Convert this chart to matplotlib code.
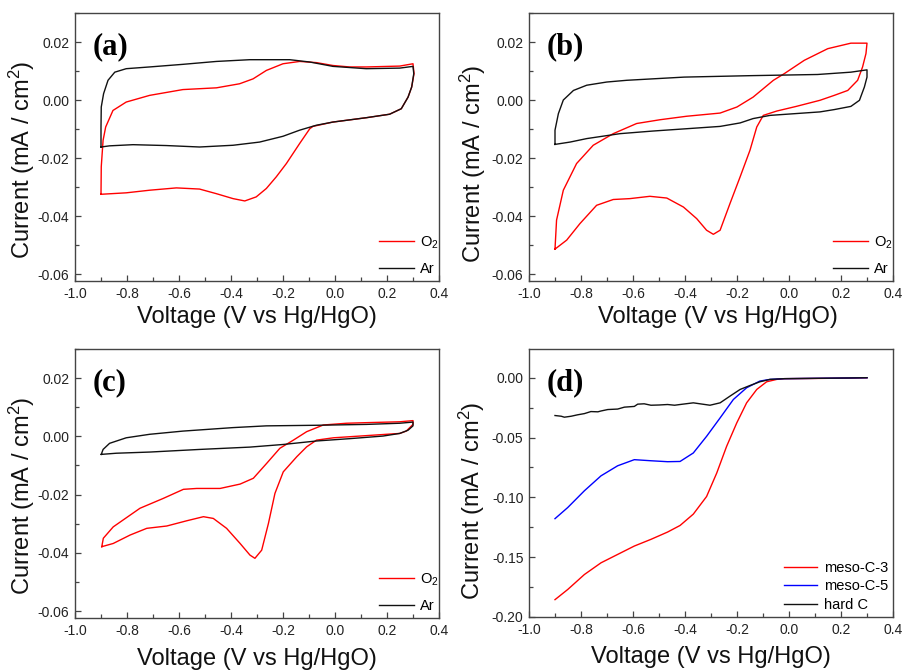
import matplotlib
matplotlib.use("Agg")
import matplotlib.pyplot as plt
from matplotlib.ticker import MultipleLocator, FormatStrFormatter

plt.rcParams['font.family'] = ['Liberation Sans', 'DejaVu Sans']
plt.rcParams['axes.unicode_minus'] = False
plt.rcParams['mathtext.default'] = 'regular'

# ---------------- data (V vs Hg/HgO, mA/cm^2) ----------------
# (a)
a_ar_v = [-0.9, -0.9, -0.899, -0.89, -0.873, -0.847, -0.803, -0.713, -0.585, -0.456, -0.328, -0.174,
          -0.097, -0.008, 0.12, 0.249, 0.30, 0.303, 0.295, 0.281, 0.255, 0.21, 0.12, -0.008, -0.072,
          -0.136, -0.2, -0.29, -0.392, -0.521, -0.649, -0.777, -0.867, -0.9]
a_ar_i = [-0.0162, -0.0093, -0.0024, 0.0022, 0.0068, 0.0096, 0.0108, 0.0114, 0.0123, 0.0133, 0.0139, 0.0139,
          0.0131, 0.0116, 0.0108, 0.0110, 0.0116, 0.0091, 0.0045, 0.0010, -0.0030, -0.0049, -0.0061, -0.0076,
          -0.0087, -0.0104, -0.0125, -0.0145, -0.0156, -0.0162, -0.0157, -0.0154, -0.0158, -0.0162]
a_o2_v = [-0.9, -0.899, -0.892, -0.882, -0.854, -0.803, -0.713, -0.585, -0.456, -0.367, -0.315, -0.264,
          -0.2, -0.136, -0.072, -0.008, 0.056, 0.121, 0.249, 0.30, 0.304, 0.295, 0.281, 0.255, 0.21, 0.121,
          -0.008, -0.085, -0.097, -0.136, -0.187, -0.226, -0.264, -0.303, -0.347, -0.392, -0.456, -0.521,
          -0.61, -0.713, -0.803, -0.9]
a_o2_i = [-0.0325, -0.0230, -0.0139, -0.0093, -0.0036, -0.0007, 0.0016, 0.0036, 0.0042, 0.0056, 0.0073, 0.0102,
          0.0125, 0.0133, 0.0129, 0.0119, 0.0114, 0.0114, 0.0117, 0.0125, 0.0091, 0.0045, 0.0010, -0.0030, -0.0049,
          -0.0061, -0.0076, -0.0091, -0.0099, -0.0150, -0.0219, -0.0265, -0.0305, -0.0334, -0.0348, -0.0340,
          -0.0323, -0.0307, -0.0303, -0.0311, -0.0320, -0.0325]

# (b)
b_ar_v = [-0.9, -0.9, -0.887, -0.868, -0.829, -0.778, -0.701, -0.624, -0.403, -0.146, 0.11, 0.238, 0.30,
          0.30, 0.29, 0.271, 0.238, 0.174, 0.119, -0.073, -0.138, -0.188, -0.265, -0.394, -0.524, -0.65,
          -0.778, -0.842, -0.9]
b_ar_i = [-0.0153, -0.0104, -0.0047, 0.0000, 0.0033, 0.0051, 0.0062, 0.0068, 0.0079, 0.0084, 0.0088, 0.0096, 0.0104,
          0.0079, 0.0045, -0.0001, -0.0022, -0.0033, -0.0041, -0.0053, -0.0064, -0.0079, -0.0091, -0.0099, -0.0107,
          -0.0116, -0.0133, -0.0145, -0.0153]
b_o2_v = [-0.9, -0.894, -0.868, -0.817, -0.753, -0.676, -0.586, -0.496, -0.394, -0.265, -0.2, -0.138, -0.06,
          -0.018, 0.059, 0.149, 0.238, 0.30, 0.296, 0.283, 0.264, 0.226, 0.174, 0.119, 0.028, -0.047, -0.099,
          -0.124, -0.15, -0.188, -0.227, -0.265, -0.291, -0.317, -0.355, -0.406, -0.47, -0.535, -0.612,
          -0.676, -0.74, -0.804, -0.855, -0.9]
b_o2_i = [-0.0514, -0.0414, -0.0311, -0.0219, -0.0156, -0.0116, -0.0081, -0.0068, -0.0056, -0.0045, -0.0024,
          0.0010, 0.0068, 0.0091, 0.0137, 0.0177, 0.0196, 0.0196, 0.0160, 0.0114, 0.0068, 0.0033, 0.0016, -0.0001,
          -0.0022, -0.0038, -0.0053, -0.0093, -0.0173, -0.0265, -0.0357, -0.0449, -0.0463, -0.0449, -0.0409,
          -0.0369, -0.0338, -0.0332, -0.0340, -0.0343, -0.0363, -0.0426, -0.0483, -0.0514]

# (c)
c_ar_v = [-0.899, -0.892, -0.867, -0.803, -0.713, -0.585, -0.392, -0.264, -0.072, 0.121, 0.249, 0.30,
          0.30, 0.281, 0.249, 0.185, 0.056, -0.072, -0.2, -0.328, -0.521, -0.713, -0.841, -0.899]
c_ar_i = [-0.0062, -0.0045, -0.0024, -0.0005, 0.0007, 0.0018, 0.0030, 0.0036, 0.0038, 0.0041, 0.0045, 0.0049,
          0.0036, 0.0021, 0.0010, 0.0001, -0.0008, -0.0016, -0.0028, -0.0037, -0.0045, -0.0054, -0.0058, -0.0062]
c_o2_v = [-0.897, -0.891, -0.853, -0.75, -0.66, -0.583, -0.532, -0.442, -0.365, -0.314, -0.263, -0.212,
          -0.16, -0.109, -0.045, 0.045, 0.121, 0.249, 0.30, 0.30, 0.274, 0.249, 0.096, -0.006, -0.071,
          -0.109, -0.147, -0.199, -0.231, -0.256, -0.282, -0.308, -0.327, -0.365, -0.417, -0.468, -0.506,
          -0.57, -0.647, -0.724, -0.788, -0.853, -0.897]
c_o2_i = [-0.0379, -0.0350, -0.0311, -0.0247, -0.0213, -0.0182, -0.0179, -0.0179, -0.0164, -0.0144, -0.0093,
          -0.0041, -0.0013, 0.0016, 0.0039, 0.0045, 0.0047, 0.0050, 0.0054, 0.0041, 0.0018, 0.0010, 0.0001,
          -0.0005, -0.0013, -0.0036, -0.0070, -0.0122, -0.0196, -0.0299, -0.0391, -0.0419, -0.0408, -0.0368,
          -0.0316, -0.0282, -0.0276, -0.0290, -0.0308, -0.0316, -0.0339, -0.0368, -0.0379]

# (d)
d_c3_v = [-0.9, -0.851, -0.787, -0.723, -0.659, -0.595, -0.531, -0.467, -0.419, -0.368, -0.317, -0.278,
          -0.24, -0.201, -0.163, -0.124, -0.086, -0.047, -0.018, 0.11, 0.238, 0.30]
d_c3_i = [-0.1855, -0.177, -0.1645, -0.1547, -0.1477, -0.1407, -0.1351, -0.1290, -0.1235, -0.1140, -0.0993,
          -0.0797, -0.0574, -0.0378, -0.0210, -0.0098, -0.0034, -0.0014, -0.0008, -0.0006, -0.0003, 0.0]
d_c5_v = [-0.9, -0.851, -0.787, -0.723, -0.659, -0.595, -0.531, -0.467, -0.419, -0.368, -0.317, -0.265,
          -0.214, -0.163, -0.112, -0.073, -0.018, 0.11, 0.238, 0.30]
d_c5_i = [-0.1178, -0.1085, -0.0945, -0.0820, -0.0736, -0.0685, -0.0694, -0.0702, -0.0700, -0.0629, -0.0490,
          -0.0336, -0.0182, -0.0084, -0.0028, -0.0014, -0.0008, -0.0005, -0.0002, 0.0]
d_hc_v = [-0.9, -0.876, -0.864, -0.838, -0.813, -0.787, -0.762, -0.735, -0.723, -0.697, -0.659, -0.633,
          -0.595, -0.582, -0.557, -0.531, -0.5, -0.467, -0.44, -0.419, -0.368, -0.304, -0.265, -0.227,
          -0.188, -0.15, -0.112, -0.073, -0.018, 0.11, 0.238, 0.30]
d_hc_i = [-0.0316, -0.0322, -0.0330, -0.0322, -0.0310, -0.0300, -0.0283, -0.0285, -0.0278, -0.0266, -0.0262,
          -0.0246, -0.0240, -0.0221, -0.0218, -0.0230, -0.0228, -0.0224, -0.0230, -0.0224, -0.0210, -0.0230,
          -0.0210, -0.0154, -0.0098, -0.0065, -0.0034, -0.0014, -0.0008, -0.0005, -0.0002, 0.0]

x_ticks = [-1.0, -0.8, -0.6, -0.4, -0.2, 0.0, 0.2, 0.4]
panel_labels = ['(a)', '(b)', '(c)', '(d)']

# ---------------- figure ----------------
fig = plt.figure(figsize=(9.02, 6.72), dpi=100)
W, H = 902, 672
def add_ax(l, t, r, b):
    return fig.add_axes([l / W, 1 - b / H, (r - l) / W, (b - t) / H])

axa = add_ax(75, 13, 439, 281)
axb = add_ax(529, 13, 893, 281)
axc = add_ax(75, 349, 439, 618)
axd = add_ax(529, 349, 893, 617)

frame = '#444444'
for ax in (axa, axb, axc, axd):
    for s in ax.spines.values():
        s.set_color(frame)
        s.set_linewidth(1.0)
    ax.set_xlim(-1.0, 0.4)
    ax.set_xticks(x_ticks)
    ax.xaxis.set_minor_locator(MultipleLocator(0.1))
    ax.xaxis.set_major_formatter(FormatStrFormatter('%.1f'))
    ax.tick_params(which='both', direction='in', top=False, right=False, colors=frame,
                   labelcolor='#222222', labelsize=10)
    ax.tick_params(which='major', length=4, width=0.9, pad=4)
    ax.tick_params(which='minor', length=3, width=0.9)
    ax.set_xlabel('Voltage (V vs Hg/HgO)', fontsize=17, color='#111111')
    ax.set_ylabel('Current (mA / cm$^2$)', fontsize=17, color='#111111')

for ax in (axa, axb, axc):
    ax.set_ylim(-0.0624, 0.030)
    ax.yaxis.set_major_locator(MultipleLocator(0.02))
    ax.yaxis.set_minor_locator(MultipleLocator(0.01))
    ax.yaxis.set_major_formatter(FormatStrFormatter('%.2f'))
axd.set_ylim(-0.20, 0.024)
axd.yaxis.set_major_locator(MultipleLocator(0.05))
axd.yaxis.set_minor_locator(MultipleLocator(0.025))
axd.yaxis.set_major_formatter(FormatStrFormatter('%.2f'))

lw = 1.0
for ax, (ov, oi, av, ai) in zip((axa, axb, axc), [(a_o2_v, a_o2_i, a_ar_v, a_ar_i),
                                                  (b_o2_v, b_o2_i, b_ar_v, b_ar_i),
                                                  (c_o2_v, c_o2_i, c_ar_v, c_ar_i)]):
    ax.plot(ov, oi, color='#ff0000', lw=lw, label='O$_2$')
    ax.plot(av, ai, color='#111111', lw=lw, label='Ar')
    ax.legend(loc='lower left', bbox_to_anchor=(0.835, 0.02), frameon=False, fontsize=10.5,
              handlelength=2.4, handletextpad=0.4, labelspacing=0.75, borderpad=0, borderaxespad=0)

axd.plot(d_c3_v, d_c3_i, color='#ff0000', lw=lw, label='meso-C-3')
axd.plot(d_c5_v, d_c5_i, color='#0000ff', lw=lw, label='meso-C-5')
axd.plot(d_hc_v, d_hc_i, color='#111111', lw=lw, label='hard C')
axd.legend(loc='lower left', bbox_to_anchor=(0.70, 0.02), frameon=False, fontsize=10.5,
           handlelength=2.3, handletextpad=0.45, labelspacing=0.3, borderpad=0, borderaxespad=0)

# label positions
axa.yaxis.set_label_coords(-0.104, 0.451)
axb.yaxis.set_label_coords(-0.113, 0.437)
axc.yaxis.set_label_coords(-0.104, 0.453)
axd.yaxis.set_label_coords(-0.115, 0.433)
axa.xaxis.set_label_coords(0.5, -0.095)
axb.xaxis.set_label_coords(0.52, -0.095)
axc.xaxis.set_label_coords(0.5, -0.11)
axd.xaxis.set_label_coords(0.5, -0.11)

for ax, lab in zip((axa, axb, axc, axd), panel_labels):
    ax.text(0.048, 0.873, lab, transform=ax.transAxes, ha='left', va='center',
            fontsize=22, fontweight='bold', family=['Liberation Serif', 'DejaVu Serif'])

fig.savefig('out.png', dpi=100)
